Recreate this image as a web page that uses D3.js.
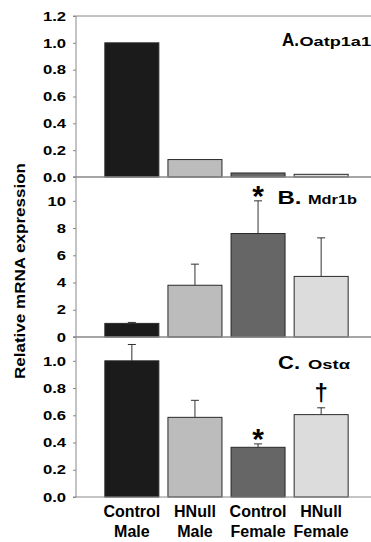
<!DOCTYPE html>
<html><head><meta charset="utf-8">
<script src="https://cdn.jsdelivr.net/npm/d3@7"></script>
<style>body{margin:0;background:#fff}svg{display:block}text{font-family:"Liberation Sans",Arial,sans-serif;font-weight:bold;fill:#000}</style>
</head><body><svg id="c" width="371" height="542"></svg>
<script>
const categories = ["Control Male","HNull Male","Control Female","HNull Female"];
const catLine1 = ["Control","HNull","Control","HNull"];
const catLine2 = ["Male","Male","Female","Female"];
const colors = ["#1b1b1b","#bcbcbc","#666666","#dcdcdc"];
const oatpValues = [1.0, 0.13, 0.03, 0.02];
const oatpErrors = [null, null, null, null];
const mdrValues = [1.0, 3.8, 7.6, 4.45];
const mdrErrors = [1.07, 5.35, 10.0, 7.28];
const ostValues = [1.0, 0.585, 0.365, 0.605];
const ostErrors = [1.12, 0.71, 0.39, 0.655];
const oatpTicks = [0,0.2,0.4,0.6,0.8,1.0,1.2];
const mdrTicks = [0,2,4,6,8,10];
const ostTicks = [0,0.2,0.4,0.6,0.8,1.0];

const svg = d3.select("#c");
const axisX = 76, rightX = 371;
const x = d3.scaleBand().domain(categories).range([100.3,352.7]).paddingInner(0.144).paddingOuter(0.072);

const panels = [
  {vals:oatpValues, errs:oatpErrors, ticks:oatpTicks, fmt:d3.format(".1f"), max:1.2, top:16, bot:177,
   letter:"A.", lfs:19, lx:282, lw:17, name:"Oatp1a1", nx:299.5, nw:71.5, ly:45.5, marks:[]},
  {vals:mdrValues, errs:mdrErrors, ticks:mdrTicks, fmt:d3.format("d"), max:11.75, top:177, bot:337,
   letter:"B.", lfs:18, lx:277.5, lw:24, name:"Mdr1b", nx:308, nw:49, ly:203.5, marks:[{i:2,s:"*"}]},
  {vals:ostValues, errs:ostErrors, ticks:ostTicks, fmt:d3.format(".1f"), max:1.175, top:337, bot:497,
   letter:"C.", lfs:18, lx:278, lw:22, name:"Ostα", nx:308, nw:42, ly:368.5, marks:[{i:2,s:"*"},{i:3,s:"†"}]}
];

panels.forEach(p => {
  const y = d3.scaleLinear().domain([0,p.max]).range([p.bot,p.top]);
  const g = svg.append("g");
  g.selectAll("rect").data(p.vals).join("rect")
    .attr("x",(d,i)=>x(categories[i])).attr("width",x.bandwidth())
    .attr("y",d=>y(d)).attr("height",d=>p.bot-y(d))
    .attr("fill",(d,i)=>colors[i]).attr("stroke","#2a2a2a").attr("stroke-width",1);
  p.errs.forEach((e,i)=>{
    if(e==null) return;
    const cx = x(categories[i])+x.bandwidth()/2;
    g.append("line").attr("x1",cx).attr("x2",cx).attr("y1",y(p.vals[i])).attr("y2",y(e)).attr("stroke","#333").attr("stroke-width",1);
    g.append("line").attr("x1",cx-4).attr("x2",cx+4).attr("y1",y(e)).attr("y2",y(e)).attr("stroke","#333").attr("stroke-width",1);
  });
  p.marks.forEach(m=>{
    const cx = x(categories[m.i])+x.bandwidth()/2;
    const e = p.errs[m.i];
    if(m.s==="*"){
      g.append("text").attr("x",cx).attr("y",y(e)+5).attr("text-anchor","middle").style("font-size","30px").text(m.s);
    } else {
      g.append("text").attr("x",cx).attr("y",y(e)-7).attr("text-anchor","middle").style("font-size","24px").text(m.s);
    }
  });
  const ax = d3.axisLeft(y).tickValues(p.ticks).tickFormat(p.fmt).tickSize(3).tickPadding(7);
  const ag = g.append("g").attr("transform",`translate(${axisX},0)`).call(ax);
  ag.select(".domain").remove();
  ag.selectAll(".tick line").attr("stroke","#888");
  ag.selectAll(".tick text").style("font-size","13px").style("font-family","'Liberation Sans',Arial,sans-serif").style("font-weight","bold").attr("fill","#000")
    .each(function(){ const L=this.getComputedTextLength(); d3.select(this).attr("textLength",L*1.28).attr("lengthAdjust","spacingAndGlyphs"); });
  g.append("line").attr("x1",axisX).attr("x2",axisX).attr("y1",p.top).attr("y2",p.bot).attr("stroke","#888");
  g.append("line").attr("x1",axisX-3).attr("x2",rightX).attr("y1",p.top).attr("y2",p.top).attr("stroke","#888");
  g.append("line").attr("x1",axisX-3).attr("x2",rightX).attr("y1",p.bot).attr("y2",p.bot).attr("stroke","#888");
  g.append("text").attr("x",p.lx).attr("y",p.ly).style("font-size",p.lfs+"px")
    .attr("textLength",p.lw).attr("lengthAdjust","spacingAndGlyphs").text(p.letter);
  g.append("text").attr("x",p.nx).attr("y",p.ly).style("font-size","13px")
    .attr("textLength",p.nw).attr("lengthAdjust","spacingAndGlyphs").text(p.name);
});

categories.forEach((c,i)=>{
  const cx = x(c)+x.bandwidth()/2;
  svg.append("text").attr("x",cx).attr("y",517).attr("text-anchor","middle").style("font-size","16px").text(catLine1[i]);
  svg.append("text").attr("x",cx).attr("y",537).attr("text-anchor","middle").style("font-size","16px").text(catLine2[i]);
});
svg.append("text").attr("transform","translate(25,271) rotate(-90)").attr("text-anchor","middle").style("font-size","14.5px")
  .attr("textLength",216).attr("lengthAdjust","spacingAndGlyphs").text("Relative mRNA expression");
</script></body></html>
